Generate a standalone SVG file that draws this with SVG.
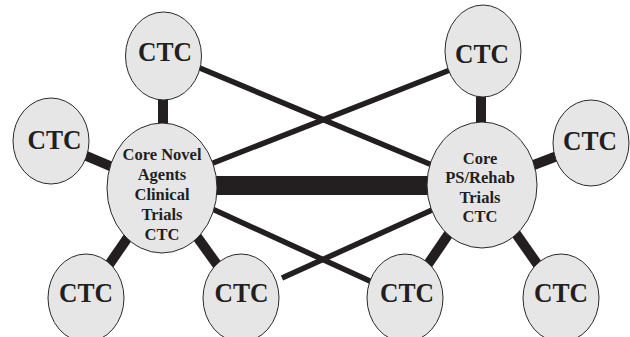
<svg xmlns="http://www.w3.org/2000/svg" width="630" height="337" viewBox="0 0 630 337">
<style>
.n{fill:#e6e6e7;stroke:#2a2a2a;stroke-width:1}
.t{font-family:"Liberation Serif","Times New Roman",serif;font-weight:bold;fill:#231f20;text-anchor:middle}
.s{font-size:28px}
.c{font-size:16.5px}
.stub{stroke:#231f20;stroke-width:10;fill:none}
.thin{stroke:#231f20;stroke-width:5.5;fill:none}
.bar{stroke:#231f20;stroke-width:19;fill:none}
</style>
<rect width="630" height="337" fill="#ffffff"/>
<g id="connectors">
<line class="bar" x1="200" y1="185.5" x2="440" y2="185.5"/>
<line class="stub" x1="163" y1="56" x2="163" y2="188"/>
<line class="stub" x1="51" y1="141" x2="162" y2="188"/>
<line class="stub" x1="86" y1="298" x2="162" y2="188"/>
<line class="stub" x1="241" y1="298" x2="162" y2="188"/>
<line class="stub" x1="481" y1="51" x2="481" y2="185"/>
<line class="stub" x1="591" y1="143" x2="482" y2="185"/>
<line class="stub" x1="405" y1="298" x2="482" y2="185"/>
<line class="stub" x1="561" y1="298" x2="482" y2="185"/>
<line class="thin" x1="195" y1="66" x2="432" y2="165"/>
<line class="thin" x1="450" y1="70" x2="208" y2="165"/>
<line class="thin" x1="208" y1="207" x2="372" y2="282"/>
<line class="thin" x1="282" y1="278" x2="432" y2="210"/>
</g>
<g id="core-left">
<ellipse class="n" cx="162" cy="188" rx="55" ry="65"/>
<text class="t c" x="162" y="160">Core Novel</text>
<text class="t c" x="162" y="180">Agents</text>
<text class="t c" x="162" y="200">Clinical</text>
<text class="t c" x="162" y="220">Trials</text>
<text class="t c" x="162" y="240">CTC</text>
</g>
<g id="core-right">
<ellipse class="n" cx="482" cy="185" rx="55" ry="63"/>
<text class="t c" x="480" y="164">Core</text>
<text class="t c" x="480" y="183">PS/Rehab</text>
<text class="t c" x="480" y="203">Trials</text>
<text class="t c" x="480" y="222">CTC</text>
</g>
<g id="ctc-top-left">
<ellipse class="n" cx="163.5" cy="56" rx="38" ry="44"/>
<text class="t s" x="165" y="61" textLength="54" lengthAdjust="spacingAndGlyphs">CTC</text>
</g>
<g id="ctc-left">
<ellipse class="n" cx="51" cy="141" rx="38" ry="43"/>
<text class="t s" x="54.5" y="149" textLength="54" lengthAdjust="spacingAndGlyphs">CTC</text>
</g>
<g id="ctc-bottom-1">
<ellipse class="n" cx="86" cy="298" rx="38" ry="44"/>
<text class="t s" x="86" y="302" textLength="54" lengthAdjust="spacingAndGlyphs">CTC</text>
</g>
<g id="ctc-bottom-2">
<ellipse class="n" cx="241" cy="298" rx="38" ry="44"/>
<text class="t s" x="241.5" y="302" textLength="54" lengthAdjust="spacingAndGlyphs">CTC</text>
</g>
<g id="ctc-top-right">
<ellipse class="n" cx="483" cy="51" rx="38" ry="46"/>
<text class="t s" x="482" y="63" textLength="54" lengthAdjust="spacingAndGlyphs">CTC</text>
</g>
<g id="ctc-right">
<ellipse class="n" cx="591" cy="143" rx="38" ry="43"/>
<text class="t s" x="590" y="150" textLength="54" lengthAdjust="spacingAndGlyphs">CTC</text>
</g>
<g id="ctc-bottom-3">
<ellipse class="n" cx="405" cy="298" rx="38" ry="44"/>
<text class="t s" x="407" y="302" textLength="54" lengthAdjust="spacingAndGlyphs">CTC</text>
</g>
<g id="ctc-bottom-4">
<ellipse class="n" cx="561" cy="298" rx="38" ry="44"/>
<text class="t s" x="561" y="302" textLength="54" lengthAdjust="spacingAndGlyphs">CTC</text>
</g>
</svg>
